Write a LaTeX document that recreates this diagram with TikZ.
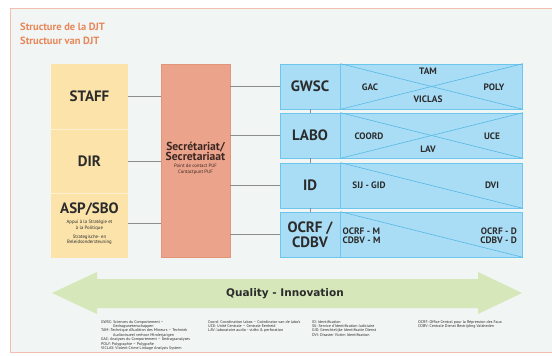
\documentclass[tikz,border=0pt]{standalone}
\usepackage{fontspec}
\setmainfont{PT Sans}
\newfontfamily\qfont{DejaVu Sans}
\definecolor{bgc}{HTML}{F1F5F4}
\definecolor{framec}{HTML}{F2BFAE}
\definecolor{titlec}{HTML}{E8875A}
\definecolor{ylw}{HTML}{FBE3AA}
\definecolor{ylwline}{HTML}{FFF1D2}
\definecolor{salmon}{HTML}{EBA48B}
\definecolor{salmonline}{HTML}{E39579}
\definecolor{blu}{HTML}{A9DDF5}
\definecolor{bluline}{HTML}{6CC6EE}
\definecolor{diagc}{HTML}{55B9E6}
\definecolor{grn}{HTML}{D6E8B9}
\definecolor{conc}{HTML}{8C8C8C}
\definecolor{txt}{HTML}{2B2B2B}
\definecolor{sectxt}{HTML}{3A2622}
\tikzset{
  titletxt/.style={anchor=west, inner sep=0pt, text=titlec, font=\bfseries\fontsize{10.5}{12}\selectfont},
  ycell/.style={fill=ylw, minimum width=77pt, inner sep=0pt, text=txt, font=\bfseries\fontsize{15}{15}\selectfont},
  bigtxt/.style={inner sep=0pt, text=txt, font=\bfseries\fontsize{15}{15}\selectfont, align=center},
  smalltxt/.style={inner sep=0pt, text=txt, font=\fontsize{4.8}{5.6}\selectfont, align=center},
  blab/.style={fill=blu, draw=bluline, line width=0.7pt, minimum width=60pt, minimum height=45pt, inner sep=0pt, text=txt, font=\bfseries\fontsize{15}{15}\selectfont, align=center},
  bdet/.style={fill=blu, draw=bluline, line width=0.7pt, minimum width=182pt, minimum height=45pt, inner sep=0pt, anchor=west},
  diag/.style={draw=diagc, line width=0.6pt},
  subtxt/.style={inner sep=0pt, text=txt, font=\bfseries\fontsize{9.3}{9.5}\selectfont},
  conn/.style={draw=conc, line width=0.8pt},
  legend/.style={anchor=north west, inner sep=0pt, text=txt, align=left, font=\fontsize{4}{4.4}\selectfont}
}
\begin{document}
\begin{tikzpicture}[x=1pt,y=-1pt]
\useasboundingbox (0,0) rectangle (552,356);
\fill[white] (0,0) rectangle (552,356);
\fill[bgc] (10,8) rectangle (552,352);
\draw[framec, line width=1pt] (552,8) -- (10,8) -- (10,352) -- (552,352);

% title
\node[titletxt] (t1) at (20,27) {Structure de la DJT};
\node[titletxt] (t2) at (20,40.5) {Structuur van DJT};

% left column
\node[ycell, minimum height=65pt] (staff) at (89.5,96.5) {STAFF};
\node[ycell, minimum height=64pt] (dir) at (89.5,161) {DIR};
\node[ycell, minimum height=65pt] (asp) at (89.5,225.5) {};
\draw[ylwline, line width=0.8pt] (staff.south west) -- (staff.south east);
\draw[ylwline, line width=0.8pt] (dir.south west) -- (dir.south east);
\node[bigtxt] (asplbl) at (89.5,209) {ASP/SBO};
\node[smalltxt] (aspsub1) at (89.5,225.5) {Appui à la Stratégie et\\à la Politique};
\node[smalltxt] (aspsub2) at (89.5,239.7) {Strategische- en\\Beleidsondersteuning};

% secretariat
\node[fill=salmon, draw=salmonline, line width=0.6pt, minimum width=69pt, minimum height=193pt, inner sep=0pt] (sec) at (195.5,160.5) {};
\node[inner sep=0pt, text=sectxt, font=\bfseries\fontsize{11.6}{10.5}\selectfont, align=center] (sectit) at (195.5,151.5) {Secrétariat/\\Secretariaat};
\node[smalltxt, text=sectxt] (secsub) at (195.5,169) {Point de contact PUF\\Contactpunt PUF};

% right boxes
\node[blab] (gwsc) at (310,86.5) {GWSC};
\node[bdet] (gwscd) at (gwsc.east) {};
\node[blab] (labo) at (310,135.5) {LABO};
\node[bdet] (labod) at (labo.east) {};
\node[blab] (id) at (310,185.5) {ID};
\node[bdet] (idd) at (id.east) {};
\node[blab] (ocrf) at (310,234.5) {OCRF /\\CDBV};
\node[bdet] (ocrfd) at (ocrf.east) {};

\draw[diag] (gwscd.north west) -- (gwscd.south east);
\draw[diag] (gwscd.south west) -- (gwscd.north east);
\draw[diag] (labod.north west) -- (labod.south east);
\draw[diag] (labod.south west) -- (labod.north east);
\draw[diag] (idd.north west) -- (idd.south east);
\draw[diag] (ocrfd.north west) -- (ocrfd.south east);

\node[subtxt] (tam) at (428,71) {TAM};
\node[subtxt] (gac) at (370,87) {GAC};
\node[subtxt] (poly) at (494,87) {POLY};
\node[subtxt] (viclas) at (428,99.5) {VICLAS};
\node[subtxt] (coord) at (369,136) {COORD};
\node[subtxt] (uce) at (492,136) {UCE};
\node[subtxt] (lav) at (428,149) {LAV};
\node[subtxt] (sij) at (369,185) {SIJ - GID};
\node[subtxt] (dvi) at (492,185) {DVI};
\node[subtxt, anchor=west, align=left] (ocrfm) at (342.5,235.5) {OCRF - M\\CDBV - M};
\node[subtxt, anchor=east, align=right] (ocrfdd) at (517,235.5) {OCRF - D\\CDBV - D};

% connectors
\draw[conn] (staff.east) -- (staff.east -| sec.west);
\draw[conn] (dir.east) -- (dir.east -| sec.west);
\draw[conn] (asp.east |- 0,223) -- (sec.west |- 0,223);
\draw[conn] (sec.east |- gwsc.west) -- (gwsc.west);
\draw[conn] (sec.east |- labo.west) -- (labo.west);
\draw[conn] (sec.east |- id.west) -- (id.west);
\draw[conn] (sec.east |- ocrf.west) -- (ocrf.west);
\draw[conn] (gwsc.south) -- (labo.north);
\draw[conn] (labo.south) -- (id.north);
\draw[conn] (id.south) -- (ocrf.north);

% quality arrow
\fill[grn] (52,293) -- (97,272) -- (97,279) -- (478,279) -- (478,272) -- (522,293) -- (478,314) -- (478,308) -- (97,308) -- (97,314) -- cycle;
\node[inner sep=0pt, text=txt, font=\qfont\bfseries\fontsize{10.5}{11}\selectfont] (qi) at (285,294) {Quality - Innovation};

% legend
\node[legend] (leg1) at (101,320) {GWSC: Sciences du Comportement –\\\hspace*{12pt}Gedragswetenschappen\\TAM: Technique d'Audition des Mineurs – Techniek\\\hspace*{12pt}Audiovisueel verhoor Minderjarigen\\GAC: Analyses du Comportement – Gedragsanalyses\\POLY: Polygraphie – Polygrafie\\VICLAS: Violent Crime Linkage Analysis System};
\node[legend] (leg2) at (208,320) {Coord: Coordination labos – Coördinator van de labo's\\UCE: Unité Centrale – Centrale Eenheid\\LAV: laboratoire audio - vidéo \& perforation};
\node[legend] (leg3) at (312,320) {ID: Identification\\SIJ: Service d'Identification Judiciaire\\GID: Gerechtelijke Identificatie Dienst\\DVI: Disaster Victim Identification};
\node[legend] (leg4) at (418,320) {OCRF: Office Central pour la Répression des Faux\\CDBV: Centrale Dienst Bestrijding Valsheden};
\end{tikzpicture}
\end{document}
